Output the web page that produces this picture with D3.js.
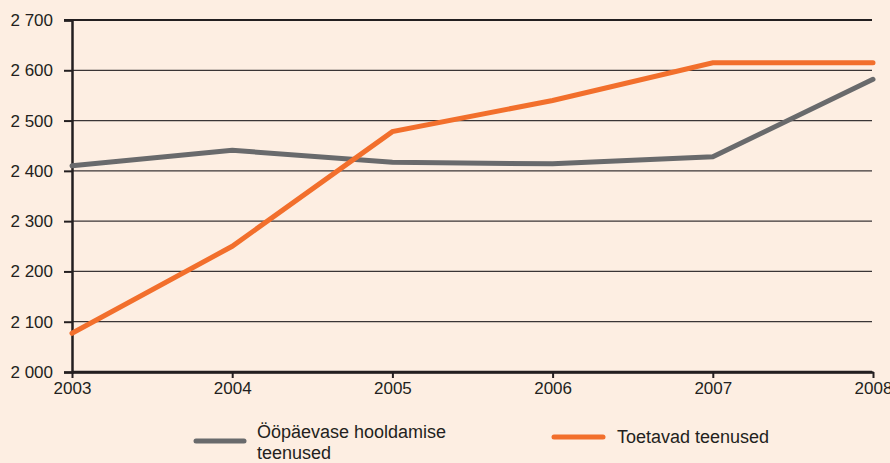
<!DOCTYPE html>
<html><head><meta charset="utf-8">
<script src="https://cdn.jsdelivr.net/npm/d3@7"></script>
<style>body{margin:0;background:#fdeee2;} svg{display:block;}</style>
</head><body><svg id="c" width="890" height="463"></svg>
<script>
const years = [2003, 2004, 2005, 2006, 2007, 2008];
const seriesNames = ["Ööpäevase hooldamise teenused", "Toetavad teenused"];
const gray = [2410, 2441, 2417, 2414, 2428, 2582];
const orange = [2077, 2250, 2478, 2540, 2615, 2615];
const yTicks = [2000, 2100, 2200, 2300, 2400, 2500, 2600, 2700];
const colors = ["#696a6c", "#f26f2c"];

const svg = d3.select("#c");
svg.append("rect").attr("width",890).attr("height",463).attr("fill","#fdeee2");
const x = d3.scalePoint().domain(years).range([72, 873]);
const y = d3.scaleLinear().domain([2000, 2700]).range([372, 20]);
const fmt = v => d3.format(",")(v).replace(",", " ");
const FONT = "Liberation Sans, Arial, sans-serif";

// gridlines
svg.append("g").selectAll("line").data(yTicks.filter(t => t!==2000 && t!==2700)).join("line")
  .attr("x1",72).attr("x2",872).attr("y1",d=>y(d)).attr("y2",d=>y(d))
  .attr("stroke","#3a3536").attr("stroke-width",1.3);
svg.append("line").attr("x1",64).attr("x2",872).attr("y1",y(2700)).attr("y2",y(2700))
  .attr("stroke","#231f20").attr("stroke-width",2.2);

// y axis
const ya = svg.append("g").attr("transform","translate(72,0)")
  .call(d3.axisLeft(y).tickValues(yTicks).tickFormat(fmt).tickSize(8).tickPadding(11));
ya.select(".domain").attr("stroke","#231f20").attr("stroke-width",2.5);
ya.selectAll(".tick line").attr("stroke","#231f20").attr("stroke-width",2);
ya.selectAll("text").attr("font-family",FONT).attr("font-size",17).attr("fill","#231f20");

// x axis
const xa = svg.append("g").attr("transform","translate(0,372)")
  .call(d3.axisBottom(x).tickSize(6).tickPadding(4).tickSizeOuter(0));
xa.select(".domain").attr("stroke","#231f20").attr("stroke-width",2.5);
xa.selectAll(".tick line").attr("stroke","#231f20").attr("stroke-width",2);
xa.selectAll("text").attr("font-family",FONT).attr("font-size",17).attr("fill","#231f20");
svg.append("line").attr("x1",72).attr("x2",872).attr("y1",372).attr("y2",372).attr("stroke","#231f20").attr("stroke-width",2.5);

const line = d3.line().x((d,i)=>x(years[i])).y(d=>y(d));
[gray, orange].forEach((s,i)=>{
  svg.append("path").datum(s).attr("d",line).attr("fill","none")
    .attr("stroke",colors[i]).attr("stroke-width",5).attr("stroke-linecap","round").attr("stroke-linejoin","miter");
});

// legend
const lg = svg.append("g").attr("font-family",FONT).attr("font-size",18).attr("fill","#231f20");
lg.append("line").attr("x1",196).attr("x2",244).attr("y1",441).attr("y2",441).attr("stroke",colors[0]).attr("stroke-width",5).attr("stroke-linecap","round");
const t1 = lg.append("text").attr("x",257).attr("y",438);
t1.append("tspan").attr("x",257).text("Ööpäevase hooldamise");
t1.append("tspan").attr("x",257).attr("dy",21).text("teenused");
lg.append("line").attr("x1",554).attr("x2",603).attr("y1",437).attr("y2",437).attr("stroke",colors[1]).attr("stroke-width",5).attr("stroke-linecap","round");
lg.append("text").attr("x",617).attr("y",443).text(seriesNames[1]);
</script></body></html>
